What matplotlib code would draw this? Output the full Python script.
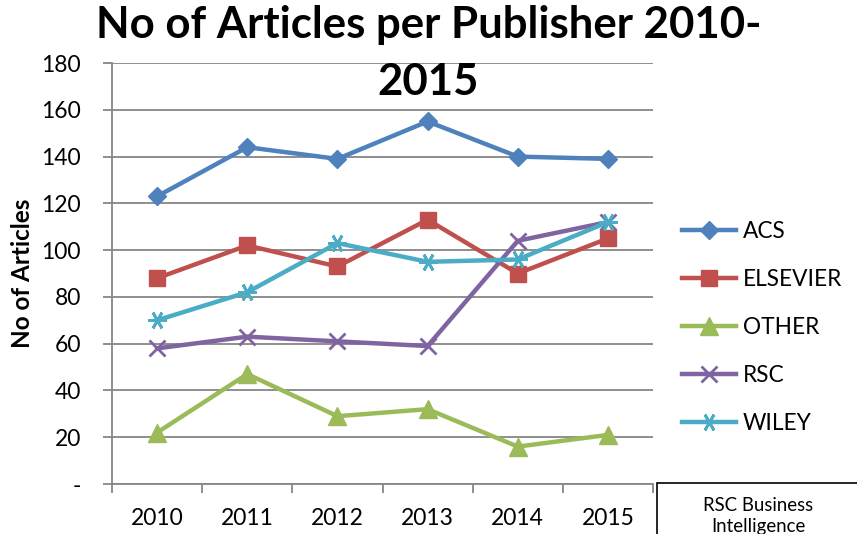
import matplotlib
matplotlib.use("Agg")
import matplotlib.pyplot as plt
from matplotlib.patches import Rectangle

plt.rcParams['font.family'] = ['Lato', 'DejaVu Sans']

# data
years = ['2010', '2011', '2012', '2013', '2014', '2015']
acs = [123, 144, 139, 155, 140, 139]
elsevier = [88, 102, 93, 113, 90, 105]
other = [22, 47, 29, 32, 16, 21]
rsc = [58, 63, 61, 59, 104, 112]
wiley = [70, 82, 103, 95, 96, 112]

yticks = [0, 20, 40, 60, 80, 100, 120, 140, 160, 180]
ytick_labels = ['-', '20', '40', '60', '80', '100', '120', '140', '160', '180']

fig = plt.figure(figsize=(8.57, 5.34), dpi=100)
ax = fig.add_axes([0.1307, 0.0936, 0.6313, 0.7884])

x = list(range(len(years)))
lw = 3.2
ax.plot(x, acs, color='#4F81BD', lw=lw, marker='D', ms=9, label='ACS', zorder=3)
ax.plot(x, elsevier, color='#C0504D', lw=lw, marker='s', ms=12, label='ELSEVIER', zorder=3)
ax.plot(x, other, color='#9BBB59', lw=lw, marker='^', ms=13, label='OTHER', zorder=3)
ax.plot(x, rsc, color='#8064A2', lw=lw, marker='x', ms=11, mew=2, label='RSC', zorder=3)
ax.plot(x, wiley, color='#4BACC6', lw=lw, marker=(6, 2, 90), ms=13, mew=2,
        label='WILEY', zorder=3)

ax.set_xlim(-0.5, 5.5)
ax.set_ylim(0, 180)
ax.set_yticks(yticks)
ax.set_yticklabels(ytick_labels)
ax.set_xticks(x)
ax.set_xticklabels(years)
ax.set_xticks([i - 0.5 for i in range(len(years) + 1)], minor=True)

ax.grid(axis='y', color='#868686', lw=1.3)
ax.set_axisbelow(True)
for s in ['top', 'right']:
    ax.spines[s].set_visible(False)
ax.spines['left'].set_color('#868686')
ax.spines['bottom'].set_color('#868686')
ax.spines['left'].set_linewidth(1.3)
ax.spines['bottom'].set_linewidth(1.3)

ax.tick_params(axis='y', length=6.5, width=1.3, color='#868686', pad=16, labelsize=16.5)
ax.tick_params(axis='x', which='major', length=0, pad=17, labelsize=16.5)
ax.tick_params(axis='x', which='minor', length=6.5, width=1.3, color='#868686')

ax.set_ylabel('No of Articles', fontsize=17.5, fontweight='bold', labelpad=5)

fig.text(0.5, 0.99, 'No of Articles per Publisher 2010-\n2015', ha='center', va='top',
         fontsize=31.5, fontweight='bold', linespacing=1.5)

leg = fig.legend(loc='upper left', bbox_to_anchor=(0.772, 0.625), frameon=False,
                 fontsize=16.3, handlelength=2.4, labelspacing=1.2, handletextpad=0.3)

# box in the bottom right corner
fig.patches.append(Rectangle((0.767, -0.05), 0.3, 0.145, transform=fig.transFigure,
                             fill=False, edgecolor='black', lw=1.2))
fig.text(0.885, 0.07, 'RSC Business\nIntelligence', ha='center', va='top',
         fontsize=13.4, linespacing=1.3)

fig.savefig('out.png', dpi=100)
